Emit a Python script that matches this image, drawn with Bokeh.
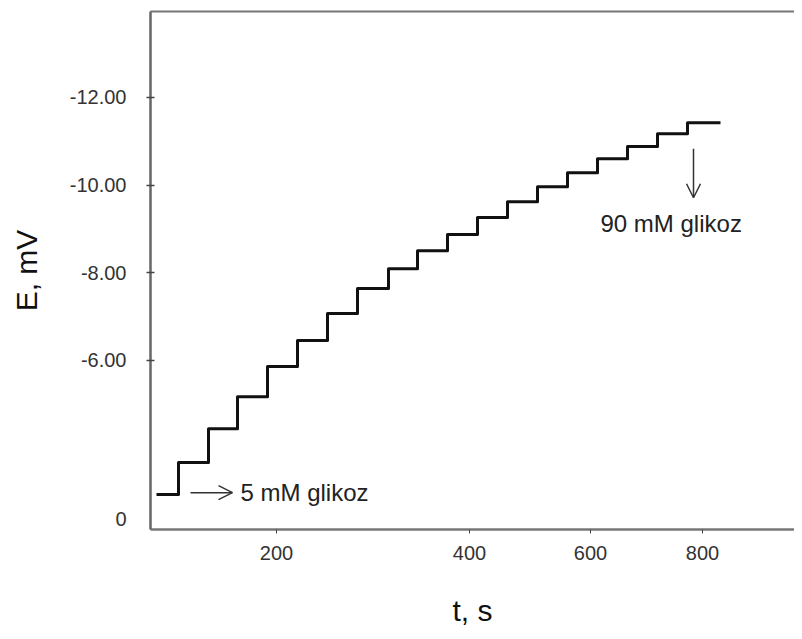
from bokeh.plotting import figure
from bokeh.models import Range1d, FixedTicker, LinearAxis, Arrow, OpenHead, Label
from bokeh.embed import file_html
from bokeh.resources import INLINE

# Step start times (s) and plateau potentials (mV)
t_steps = [80, 102, 132, 161, 191, 221, 251, 281, 312, 341, 371, 401, 431, 461, 491, 521, 551, 581, 611]
E_levels = [-2.94, -3.67, -4.44, -5.17, -5.86, -6.45, -7.07, -7.64, -8.09, -8.50,
            -8.87, -9.26, -9.62, -9.96, -10.28, -10.60, -10.88, -11.17, -11.42]
t_end = 644

# Axis ticks (the original axis is not linear; labels as printed)
x_tick_pos = [200, 393, 514, 626]
x_tick_labels = ["200", "400", "600", "800"]
y_tick_pos = [-12, -10, -8, -6]
y_tick_labels = ["-12.00", "-10.00", "-8.00", "-6.00"]
y_zero_pos = -2.37
y_zero_label = "0"

FONT = "Liberation Sans"

p = figure(width=794, height=631,
           x_range=Range1d(74, 718), y_range=Range1d(-2.14, -13.96),
           output_backend="svg", toolbar_location=None,
           min_border_left=150, min_border_right=0,
           min_border_top=11, min_border_bottom=102)
p.grid.visible = False
p.outline_line_color = None
p.background_fill_color = "white"
p.border_fill_color = "white"

xs = t_steps + [t_end]
ys = E_levels + [E_levels[-1]]
p.step(xs, ys, mode="after", line_width=3, line_color="#111111", line_join="round")

# x axis
xa = p.xaxis[0]
xa.ticker = FixedTicker(ticks=x_tick_pos)
xa.major_label_overrides = {pos: lab for pos, lab in zip(x_tick_pos, x_tick_labels)}
xa.minor_tick_line_color = None
xa.major_tick_in = 0
xa.major_tick_out = 4
xa.major_tick_line_color = "#444444"
xa.axis_line_color = "#777777"
xa.axis_line_width = 2.5
xa.major_label_standoff = 12
xa.major_label_text_font = FONT
xa.major_label_text_font_size = "20px"
xa.major_label_text_color = "#333333"
xa.axis_label = "t, s"
xa.axis_label_text_font = FONT
xa.axis_label_text_font_size = "30px"
xa.axis_label_text_font_style = "normal"
xa.axis_label_text_color = "#111111"
xa.axis_label_standoff = 31

# y axis: labels on major ticks (no marks), marks on minor ticks (no mark at "0")
ya = p.yaxis[0]
ya.ticker = FixedTicker(ticks=y_tick_pos + [y_zero_pos], minor_ticks=y_tick_pos)
overrides = {pos: lab for pos, lab in zip(y_tick_pos, y_tick_labels)}
overrides[y_zero_pos] = y_zero_label
ya.major_label_overrides = overrides
ya.major_tick_in = 0
ya.major_tick_out = 0
ya.minor_tick_in = 4
ya.minor_tick_out = 4
ya.minor_tick_line_color = "#444444"
ya.minor_tick_line_width = 1.5
ya.axis_line_color = "#666666"
ya.axis_line_width = 2.5
ya.major_label_standoff = 20
ya.major_label_text_font = FONT
ya.major_label_text_font_size = "20px"
ya.major_label_text_color = "#333333"
ya.axis_label = "E, mV"
ya.axis_label_text_font = FONT
ya.axis_label_text_font_size = "30px"
ya.axis_label_text_font_style = "normal"
ya.axis_label_text_color = "#111111"
ya.axis_label_standoff = 24

# top border line
top = LinearAxis(ticker=FixedTicker(ticks=[]), major_label_text_font_size="0px",
                 major_tick_in=0, major_tick_out=0, minor_tick_in=0, minor_tick_out=0,
                 axis_line_color="#777777", axis_line_width=2)
p.add_layout(top, "above")

# annotations
p.add_layout(Arrow(x_start=114, y_start=-2.98, x_end=156, y_end=-2.98,
                   line_width=1.5, line_color="#333333",
                   end=OpenHead(size=14, line_width=1.5, line_color="#333333")))
p.add_layout(Label(x=164, y=-2.98, text="5 mM glikoz", text_align="left", text_baseline="middle",
                   text_font=FONT, text_font_size="24px", text_color="#222222"))

p.add_layout(Arrow(x_start=617, y_start=-10.83, x_end=617, y_end=-9.71,
                   line_width=1.5, line_color="#333333",
                   end=OpenHead(size=14, line_width=1.5, line_color="#333333")))
p.add_layout(Label(x=524, y=-9.12, text="90 mM glikoz", text_align="left", text_baseline="middle",
                   text_font=FONT, text_font_size="24px", text_color="#222222"))

open("out.html", "w").write(file_html(p, INLINE))
